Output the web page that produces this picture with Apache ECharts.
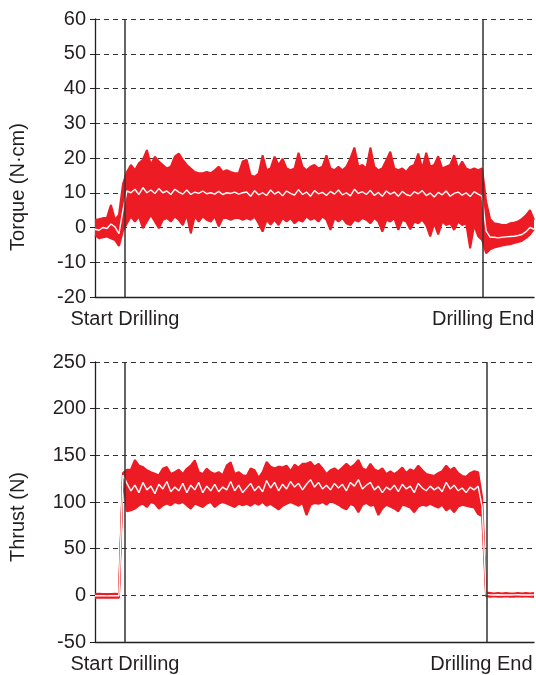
<!DOCTYPE html>
<html>
<head>
<meta charset="utf-8">
<script src="https://cdn.jsdelivr.net/npm/echarts@6/dist/echarts.min.js"></script>
<style>
html,body{margin:0;padding:0;background:#fff;}
#chart{width:536px;height:675px;}
</style>
</head>
<body>
<div id="chart"></div>
<script>
// sample times (arbitrary units)
const time = [0,1,2,3,4,5,6,7,8,9,10,11,12,13,14,15,16,17,18,19,20,21,22,23,24,25,26,27,28,29,30,31,32,33,34,35,36,37,38,39,40,41,42,43,44,45,46,47,48,49,50,51,52,53,54,55,56,57,58,59,60,61,62,63,64,65,66,67,68,69,70,71,72,73,74,75,76,77,78,79,80,81,82,83,84,85,86,87,88,89,90,91,92,93,94,95,96,97,98,99,100,101,102,103,104,105,106,107,108,109,110];

const torqueUpper = [2.2,2.4,2.7,2.8,6.5,2.2,3.6,12.5,16,18,16.5,18.5,19.5,22.3,18,20.4,19,18,17,17.5,20.4,21.3,19.5,18,17,16,15.6,15.6,16,15.6,16.5,17.5,16,16.5,16,15.6,15.6,19,
19.5,15,14.6,15.5,20.8,16.5,17,20.4,18,19.8,17,16.5,17,21.5,17.5,16.5,17.5,18,17,17.5,20.8,17,16.5,17.5,16.5,17.5,19.9,23,17.5,18,17,23,17.5,16.5,17,19.4,21.8,
17,16.5,17,16,17.5,18,21.3,17,21.5,17.5,18,20.5,17,17.5,18,20.8,17,19,17,16.5,17,16.5,17,
7.5,2.5,1.2,1.0,0.7,0.7,1.2,1.4,1.7,2.5,3.5,5.0,2.2];

const torqueLower = [-2.2,-3.1,-2.8,-2.6,-3.1,-3.6,-5.3,-1.0,1.2,3.2,1.7,3.2,-0.2,1.7,3.6,1.7,-0.2,2.2,2.7,1.7,3.2,2.2,0.7,3.6,-1.7,3.2,1.7,3.2,2.2,1.7,3.2,0.3,2.7,2.7,2.2,2.7,2.7,2.2,
2.7,2.2,3.2,1.2,-1.2,2.2,0.8,2.2,0.7,2.7,1.7,2.7,1.2,2.2,1.7,3.2,2.2,2.7,1.7,3.2,2.2,-0.7,2.7,1.7,2.7,1.2,0.7,2.2,1.7,2.7,2.2,1.2,2.7,1.7,-1.2,2.2,1.7,
2.7,-0.7,2.2,1.7,-0.5,1.7,1.2,2.2,0.7,-2.6,1.2,-2.0,1.7,0.7,1.2,-0.7,1.7,0.7,1.2,-6.0,0.7,-2.5,-3.6,
-7.4,-6.3,-5.8,-5.5,-5.2,-5.0,-4.8,-4.5,-4.2,-3.8,-3.0,-2.0,-0.5];

const torqueMid = [-0.5,-0.8,0,-0.3,1.0,0.2,-1.8,5,10.5,10,11,9.5,11.5,10,10.8,9.8,11.2,10,10.5,9.5,11,10.2,9.6,10.8,9.5,10.2,9.8,10.5,9.7,10,9.6,10.4,9.5,10,9.8,10.2,9.6,10,
10.2,9.0,10.6,9.4,10.0,9.2,10.8,9.6,10.3,9.1,10.5,9.8,9.3,10.9,9.5,10.2,9.0,10.6,9.7,10.1,9.2,10.4,9.6,10.8,9.4,10.0,9.1,11.0,9.8,10.3,9.5,10.7,9.2,10.1,9.0,10.5,9.6,
10.2,9.0,10.4,9.5,9.1,10.3,9.7,10.6,9.2,9.9,8.8,10.1,9.4,10.5,9.0,9.8,10.2,9.3,10.0,8.9,10.3,9.6,9.0,
-1,-2.8,-2.8,-3.0,-2.8,-2.7,-2.6,-2.5,-2.3,-2.0,-1.2,0,-0.5];

const thrustUpper = [1.5,1.6,1.5,1.4,1.5,1.6,1.5,131,
134.6,134.6,145,139,137.5,134,132,130.4,128.6,135.7,137.5,130,132,134.6,130,135.7,139,144.6,132,130,135.7,132,130,132,128.6,139,142.5,130,132,128.6,
128,136,134,126,132,143,138,136,138,137,139,133,140,137,141,141,143,138,141,136,130,134,136,133,137,141,137,140,145,136,134,141,135,133,136,130,133,
130,133,137,131,135,133,139,134,130,129,128,131,133,139,134,137,131,128,127,131,133,132,
105,3,
2.5,2,2.5,2,2.5,2,2,2.5,2,2.5,2,2.5];

const thrustLower = [-2.5,-2.4,-2.5,-2.6,-2.5,-2.4,-2.5,127,
90,91,92.9,96.4,98.2,94.6,100,98.2,92.9,96.4,98.2,96.4,100,98.2,100,96.4,92.9,98.2,96.4,94.6,98.2,100,94.6,98.2,100,98.2,96.4,94.6,98.2,96.4,
98,96,99,97,100,96,98,95,92,96,98,100,98,96,99,86,97,99,98,100,97,101,99,97,94,92,98,96,89,97,99,96,97,86,93,97,95,
93,90,97,96,94,89,95,97,96,98,96,94,97,91,94,89,95,97,96,95,94,87,
85,-1,
-1.5,-1,-1.5,-1.5,-1,-1.5,-1.5,-1,-1.5,-1,-1.5,-1.5];

const thrustMid = [-0.5,-0.4,-0.5,-0.6,-0.5,-0.4,-0.5,129,
120,112,118,110,121,113,117,109,119,114,122,111,116,112,120,110,118,113,121,110,117,112,119,111,116,113,122,112,118,110,
115,120,112,117,111,123,115,121,112,119,114,122,116,120,113,119,124,116,121,114,118,113,120,115,119,112,121,117,124,114,118,121,113,117,110,116,113,
118,111,119,114,117,110,120,115,112,117,113,116,111,121,114,118,112,115,110,116,113,117,
95,1,
0.5,0.3,0.6,0.4,0.5,0.3,0.5,0.6,0.4,0.5,0.3,0.5];

const eventNames = ['Start Drilling','Drilling End'];
const torqueEvents = [7.5, 97.25];
const thrustEvents = [7.5, 98.2];

const torqueTicks = {min:-20, max:60, interval:10};
const thrustTicks = {min:-50, max:250, interval:50};

const RED = '#ed1c24';
const INK = '#231f20';
const FONT = 'Liberation Sans, Arial, sans-serif';
const FS = 20;

function diff(up, lo){ return up.map((v,i)=> +(v - lo[i]).toFixed(3)); }

function valueXAxis(gi, events, endShift){
  return {
    type:'value', gridIndex:gi, min:time[0], max:time[time.length-1],
    axisLine:{show:true, onZero:false, lineStyle:{color:INK, width:1.3}},
    axisTick:{show:false},
    splitLine:{show:false},
    axisLabel:{
      show:true, customValues:events, margin:12, hideOverlap:false,
      color:INK, fontSize:FS, fontFamily:FONT,
      formatter:(v)=> {
        const i = events.indexOf(v);
        return i === events.length-1 ? '{e|' + eventNames[i] + '}' : eventNames[i];
      },
      rich:{ e:{color:INK, fontSize:FS, fontFamily:FONT, padding:[0,endShift,0,0]} }
    }
  };
}
function catXAxis(gi){
  return {
    type:'category', gridIndex:gi, data:time.map(String), boundaryGap:false,
    show:false
  };
}
function yAxisFor(gi, ticks, name, pad){
  return {
    type:'value', gridIndex:gi, min:ticks.min, max:ticks.max, interval:ticks.interval,
    name:name, nameLocation:'middle', nameGap:67,
    nameTextStyle:{color:INK, fontSize:FS, fontFamily:FONT, padding:[0,pad,0,0]},
    axisLine:{show:true, lineStyle:{color:INK, width:1.3}},
    axisTick:{show:true, length:5, lineStyle:{color:INK}},
    axisLabel:{color:INK, fontSize:FS, fontFamily:FONT, margin:9},
    splitLine:{show:true, lineStyle:{color:'#333', width:1, type:[5,4]}}
  };
}
function bandSeries(gi, up, lo, mid, events, stackName){
  const cx = gi*2+1, vx = gi*2;
  return [
    {type:'line', xAxisIndex:cx, yAxisIndex:gi, data:lo, stack:stackName, stackStrategy:'all',
     showSymbol:false, symbol:'none', lineStyle:{color:RED, width:2}, z:2},
    {type:'line', xAxisIndex:cx, yAxisIndex:gi, data:diff(up, lo), stack:stackName, stackStrategy:'all',
     showSymbol:false, symbol:'none', lineStyle:{color:RED, width:2}, areaStyle:{color:RED, opacity:1}, z:2},
    {type:'line', xAxisIndex:cx, yAxisIndex:gi, data:mid,
     showSymbol:false, symbol:'none', lineStyle:{color:'#ffffff', width:1.4}, z:3},
    {type:'line', xAxisIndex:vx, yAxisIndex:gi, data:[], z:4,
     markLine:{symbol:'none', silent:true, label:{show:false},
       lineStyle:{color:'#333', width:1.5, type:'solid'},
       data: events.map(e=>({xAxis:e}))}}
  ];
}

const chart = echarts.init(document.getElementById('chart'), null, {renderer:'canvas'});
chart.setOption({
  animation:false,
  backgroundColor:'#fff',
  grid:[
    {left:95, top:19, width:439, height:278, containLabel:false, outerBoundsMode:'none'},
    {left:95, top:362, width:439, height:280, containLabel:false, outerBoundsMode:'none'}
  ],
  xAxis:[valueXAxis(0, torqueEvents, 0), catXAxis(0), valueXAxis(1, thrustEvents, 11), catXAxis(1)],
  yAxis:[yAxisFor(0, torqueTicks, 'Torque (N·cm)', 58), yAxisFor(1, thrustTicks, 'Thrust (N)', 30)],
  series:[].concat(
    bandSeries(0, torqueUpper, torqueLower, torqueMid, torqueEvents, 'tq'),
    bandSeries(1, thrustUpper, thrustLower, thrustMid, thrustEvents, 'th')
  )
});
</script>
</body>
</html>
